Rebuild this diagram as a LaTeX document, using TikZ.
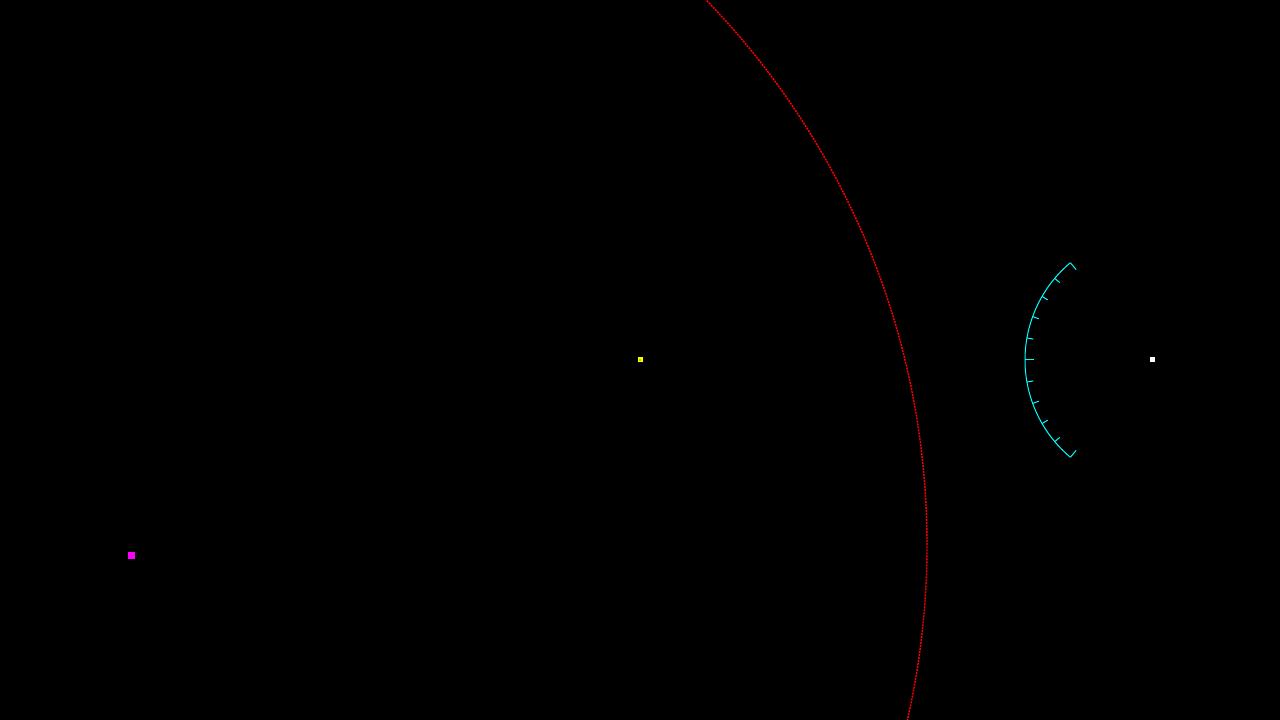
\documentclass[tikz,border=0pt]{standalone}
\definecolor{ringred}{RGB}{255,0,0}
\definecolor{fovcyan}{RGB}{0,255,255}
\definecolor{basemag}{RGB}{255,0,255}
\definecolor{goalyel}{RGB}{255,255,0}
\definecolor{goalgrn}{RGB}{0,200,0}
\begin{document}
\begin{tikzpicture}[x=1pt,y=1pt,
  blip/.style={fill=#1,draw=none,inner sep=0pt,minimum size=5pt},
  tick/.style={fovcyan,line width=1pt}]
\fill[black] (0,0) rectangle (1280,720);
\useasboundingbox (0,0) rectangle (1280,720);
\clip (0,0) rectangle (1280,720);
% range ring
\coordinate (ringc) at (144,175);
\draw[ringred,line width=1.4pt,dash pattern=on 2pt off 1pt] (ringc) circle[radius=783];
% sensor with its field of view
\node[blip=white] (sensor) at (1152,360) {};
\draw[tick] ([shift={(130:127)}]sensor.center) arc[start angle=130,end angle=230,radius=127];
\foreach \a in {140,150,...,220}
  \draw[tick] ([shift={(\a:127)}]sensor.center) -- ([shift={(\a:120.5)}]sensor.center);
\draw[tick] ([shift={(180:127)}]sensor.center) -- ([shift={(180:118)}]sensor.center);
\draw[tick] ([shift={(130:127)}]sensor.center) -- ([shift={(130:118)}]sensor.center);
\draw[tick] ([shift={(230:127)}]sensor.center) -- ([shift={(230:118)}]sensor.center);
% targets
\node[blip=goalyel] (goal) at (640,360) {};
\fill[goalgrn] (goal.center) circle[radius=0.8];
\node[blip=basemag,minimum size=7pt] (base) at (131,164) {};
\end{tikzpicture}
\end{document}
